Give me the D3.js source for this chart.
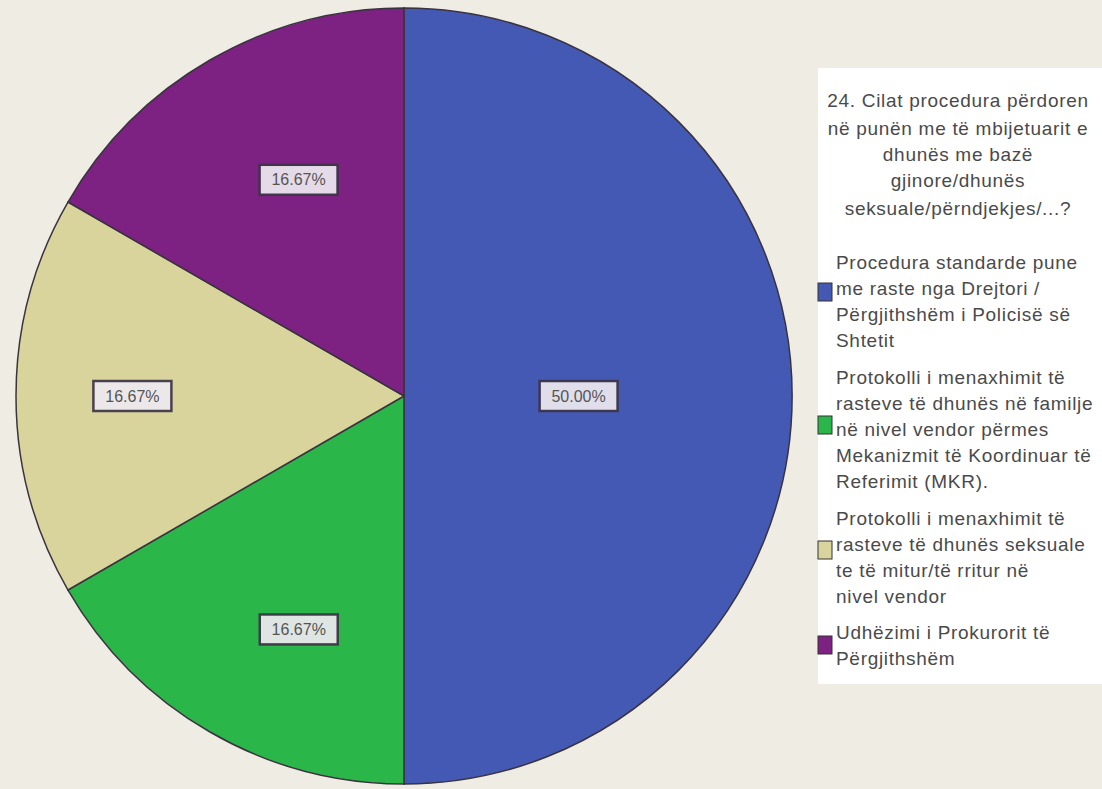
<!DOCTYPE html>
<html><head><meta charset="utf-8">
<script src="https://cdn.jsdelivr.net/npm/d3@7"></script>
<style>body{margin:0;background:#efece4;}svg{display:block;}</style>
</head><body>
<svg id="c" width="1102" height="789"></svg>
<script>
const categories = [
  "Procedura standarde pune me raste nga Drejtori / Përgjithshëm i Policisë së Shtetit",
  "Protokolli i menaxhimit të rasteve të dhunës në familje në nivel vendor përmes Mekanizmit të Koordinuar të Referimit (MKR).",
  "Protokolli i menaxhimit të rasteve të dhunës seksuale te të mitur/të rritur në nivel vendor",
  "Udhëzimi i Prokurorit të Përgjithshëm"
];
const values = [3, 1, 1, 1];
const percentLabels = ["50.00%", "16.67%", "16.67%", "16.67%"];
const colors = ["#4459b3", "#2bb64a", "#d9d49b", "#7d2182"];
const legendTitle = ["24.  Cilat procedura përdoren", "në punën me të mbijetuarit e", "dhunës me bazë", "gjinore/dhunës", "seksuale/përndjekjes/...?"];
const legendLines = [
  ["Procedura standarde pune", "me raste nga Drejtori /", "Përgjithshëm i Policisë së", "Shtetit"],
  ["Protokolli i menaxhimit të", "rasteve të dhunës në familje", "në nivel vendor përmes", "Mekanizmit të Koordinuar të", "Referimit (MKR)."],
  ["Protokolli i menaxhimit të", "rasteve të dhunës seksuale", "te të mitur/të rritur në", "nivel vendor"],
  ["Udhëzimi i Prokurorit të", "Përgjithshëm"]
];

const svg = d3.select("#c");
const cx = 404, cy = 396, r = 388;
const pie = d3.pie().sort(null).value(d => d);
const arcs = pie(values);
const arc = d3.arc().innerRadius(0).outerRadius(r);
const g = svg.append("g").attr("transform", `translate(${cx},${cy})`);
g.selectAll("path").data(arcs).enter().append("path")
  .attr("d", arc).attr("fill", (d,i) => colors[i])
  .attr("stroke", "#3a3340").attr("stroke-width", 1.5);

const labelRadius = [0.45, 0.66, 0.7, 0.62];
const labelShift = [0, -0.1, 0, 0.07]; // radians, along the arc
arcs.forEach((d,i) => {
  const ang = (d.startAngle + d.endAngle) / 2 + labelShift[i];
  const rr = r * labelRadius[i];
  const x = Math.sin(ang) * rr, y = -Math.cos(ang) * rr;
  const lg = g.append("g").attr("transform", `translate(${x},${y})`);
  lg.append("rect").attr("x", -39).attr("y", -15).attr("width", 78).attr("height", 30)
    .attr("fill", "#eeeaf0").attr("stroke", "#3e3548").attr("stroke-width", 2.5).attr("opacity", 0.92);
  lg.append("text").attr("text-anchor", "middle").attr("dy", "0.35em")
    .attr("font-family", "Liberation Sans, Arial, sans-serif").attr("font-size", 16)
    .attr("fill", "#555").text(percentLabels[i]);
});

// legend
const lx = 818, ly = 68, lw = 284, lh = 616;
svg.append("rect").attr("x", lx).attr("y", ly).attr("width", lw).attr("height", lh).attr("fill", "#ffffff");
const font = "Liberation Sans, Arial, sans-serif";
const fs = 19;
const ls = 0.7;
const titleY = [100, 128, 154, 180, 208];
legendTitle.forEach((t,i) => {
  svg.append("text").attr("x", 958).attr("y", titleY[i]).attr("dy", "0.35em")
    .attr("text-anchor", "middle").attr("font-family", font).attr("font-size", fs)
    .attr("letter-spacing", ls).attr("fill", "#4a4a4a").text(t);
});
const itemStart = [262, 377, 518, 632];
const lineGap = 26;
const swatchY = [292, 425, 550, 645];
legendLines.forEach((lines, k) => {
  svg.append("rect").attr("x", 818).attr("y", swatchY[k]-9).attr("width", 14).attr("height", 18)
    .attr("fill", colors[k]).attr("stroke", "#333").attr("stroke-width", 1);
  lines.forEach((t, j) => {
    svg.append("text").attr("x", 836).attr("y", itemStart[k] + j*lineGap).attr("dy", "0.35em")
      .attr("font-family", font).attr("font-size", fs).attr("letter-spacing", ls)
      .attr("fill", "#4a4a4a").text(t);
  });
});
</script>
</body></html>
